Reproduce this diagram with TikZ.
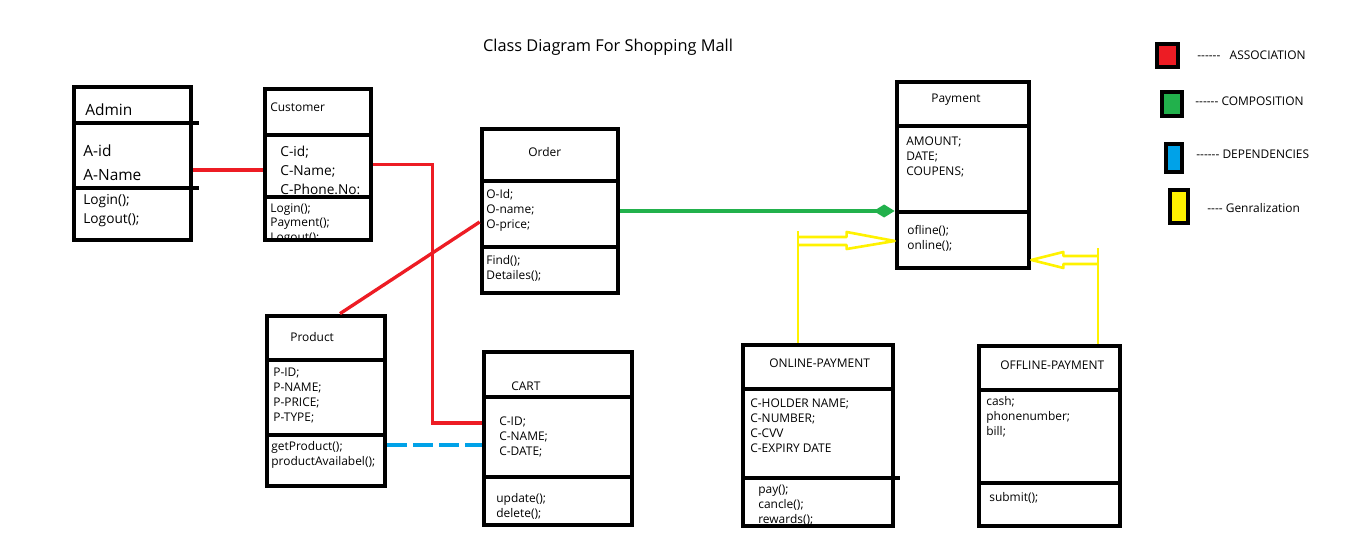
\documentclass[tikz,border=0pt]{standalone}
\usepackage{fontspec}
\setmainfont{Open Sans}
\usetikzlibrary{arrows.meta,fit}

\definecolor{assocred}{RGB}{237,28,36}
\definecolor{compgreen}{RGB}{34,177,76}
\definecolor{depblue}{RGB}{0,162,232}
\definecolor{genyellow}{RGB}{255,242,0}

\begin{document}
\begin{tikzpicture}[x=0.02cm,y=-0.02cm,
  umlbox/.style={draw,line width=2.7pt,inner sep=0pt},
  divider/.style={line width=2.1pt},
  txt/.style={anchor=west,inner sep=0pt,align=left,font=\fontsize{6.8}{8.5}\selectfont},
  midtxt/.style={txt,font=\fontsize{7.8}{10.8}\selectfont},
  bigtxt/.style={txt,font=\fontsize{8.8}{13.6}\selectfont},
  assoc/.style={draw=assocred,line width=1.9pt},
  comp/.style={draw=compgreen,line width=1.9pt,-{Diamond[length=0.42cm,width=0.26cm,fill=compgreen]}},
  dep/.style={draw=depblue,line width=1.9pt,dash pattern=on 0.4cm off 0.12cm},
  gen/.style={draw=genyellow,line width=1.5pt,line join=round},
  legbox/.style={draw,line width=2.4pt,inner sep=0pt}]

\useasboundingbox (0,0) rectangle (1357,554);

%Class box: name, corners, two dividers.
\def\umlclass#1#2#3#4#5#6#7{%
  \node[umlbox,fit={(#2,#3) (#4,#5)}] (#1) {};
  \draw[divider] (#2,#6) -- (#4,#6);
  \draw[divider] (#2,#7) -- (#4,#7);}

% Title
\node[inner sep=0pt,font=\fontsize{9.3}{11}\selectfont] (title) at (608,47) {Class Diagram For Shopping Mall};

% Class texts (drawn first, the box lines cover them)
\node[bigtxt] (admin-name) at (85,110) {Admin};
\node[bigtxt] (admin-attr) at (83,163) {A-id\\A-Name};
\node[midtxt] (admin-ops) at (83,210.5) {Login();\\Logout();};

\node[txt] (cust-name) at (270,107) {Customer};
\node[midtxt] (cust-attr) at (280,170) {C-id;\\C-Name;\\C-Phone.No:};
\begin{scope}
\clip (265,197) rectangle (371,240);
\node[txt] (cust-ops) at (270,224) {Login();\\Payment();\\Logout();};
\end{scope}

\node[txt] (ord-name) at (528,152) {Order};
\node[txt] (ord-attr) at (486,210) {O-Id;\\O-name;\\O-price;};
\node[txt] (ord-ops) at (486,268) {Find();\\Detailes();};

\node[txt] (prod-name) at (290,337) {Product};
\node[txt] (prod-attr) at (273,395.5) {P-ID;\\P-NAME;\\P-PRICE;\\P-TYPE;};
\node[txt] (prod-ops) at (271,454.5) {getProduct();\\productAvailabel();};

\node[txt] (cart-name) at (511,386) {CART};
\node[txt] (cart-attr) at (499,437) {C-ID;\\C-NAME;\\C-DATE;};
\node[txt] (cart-ops) at (496,506) {update();\\delete();};

\node[txt] (pay-name) at (931,100) {Payment};
\node[txt] (pay-attr) at (906,157) {AMOUNT;\\DATE;\\COUPENS;};
\node[txt] (pay-ops) at (907,238.5) {ofline();\\online();};

\node[txt] (on-name) at (769,363) {ONLINE-PAYMENT};
\node[txt] (on-attr) at (750,425.5) {C-HOLDER NAME;\\C-NUMBER;\\C-CVV\\C-EXPIRY DATE};
\begin{scope}
\clip (743,478) rectangle (893,526);
\node[txt] (on-ops) at (758,505) {pay();\\cancle();\\rewards();};
\end{scope}

\node[txt] (off-name) at (1000,365) {OFFLINE-PAYMENT};
\node[txt] (off-attr) at (986,417) {cash;\\phonenumber;\\bill;};
\node[txt] (off-ops) at (989,498) {submit();};

% Class boxes
\umlclass{admin}{74}{87}{191}{240}{123}{188}
\umlclass{cust}{265}{89}{371}{240}{135}{197}
\umlclass{ord}{482}{129}{618}{293}{181}{247}
\umlclass{prod}{267}{316}{385}{486}{360}{435}
\umlclass{cart}{484}{352}{632}{525}{397}{477}
\umlclass{pay}{897}{82}{1029}{268}{126}{212}
\umlclass{online}{743}{345}{893}{526}{389}{478}
\umlclass{offline}{979}{346}{1120}{526}{390}{483}
\draw[divider] (admin.east |- 0,123) -- ++(6,0);
\draw[divider] (admin.east |- 0,188) -- ++(6,0);
\draw[divider] (online.east |- 0,478) -- ++(5,0);

% Association
\draw[assoc] (admin.east |- cust-attr.west) -- (cust.west |- cust-attr.west);
\draw[assoc] (cust.east) -- ++(59,0) |- ([yshift=0.31cm]cart.west);
\draw[assoc] ([yshift=-0.22cm]ord.west) -- ([xshift=0.28cm]prod.north);

% Dependency
\draw[dep] ([yshift=-0.88cm]prod.east) coordinate (dep-start) -- (cart.west |- dep-start);

% Composition
\draw[comp] (ord.east) -- (pay.west |- ord.east);

% Generalization
\coordinate (on-gen) at ([xshift=-0.4cm]online.north);
\coordinate (on-tip) at ([yshift=-1.32cm]pay.west);
\draw[gen] (on-gen) -- ++(0,-112);
\draw[gen] (on-tip) ++(-97,-4) -- ++(49,0) -- ++(0,-5) -- (on-tip) -- ++(-48,8) -- ++(0,-4) -- ++(-49,0);

\coordinate (off-gen) at ([xshift=0.97cm]offline.north);
\coordinate (off-tip) at ([yshift=-1.7cm]pay.east);
\draw[gen] (off-gen) -- ++(0,-96);
\draw[gen] (off-tip) ++(67,-4) -- ++(-35,0) -- ++(0,-4) -- (off-tip) -- ++(32,8) -- ++(0,-4) -- ++(35,0);

% Legend
\node[legbox,fill=assocred,fit={(1157,44) (1178,67)}] (leg-assoc) {};
\node[legbox,fill=compgreen,fit={(1162,92) (1182,116)}] (leg-comp) {};
\node[legbox,fill=depblue,fit={(1166,144) (1182,172)}] (leg-dep) {};
\node[legbox,fill=genyellow,fit={(1170,190) (1188,223)}] (leg-gen) {};
\node[txt] (leg-assoc-txt) at (1197,55) {-{}-{}-{}-{}-{}-\ \ \ ASSOCIATION};
\node[txt] (leg-comp-txt) at (1195,101) {-{}-{}-{}-{}-{}- COMPOSITION};
\node[txt] (leg-dep-txt) at (1196,154) {-{}-{}-{}-{}-{}- DEPENDENCIES};
\node[txt] (leg-gen-txt) at (1207,208) {-{}-{}-{}- Genralization};

\end{tikzpicture}
\end{document}
